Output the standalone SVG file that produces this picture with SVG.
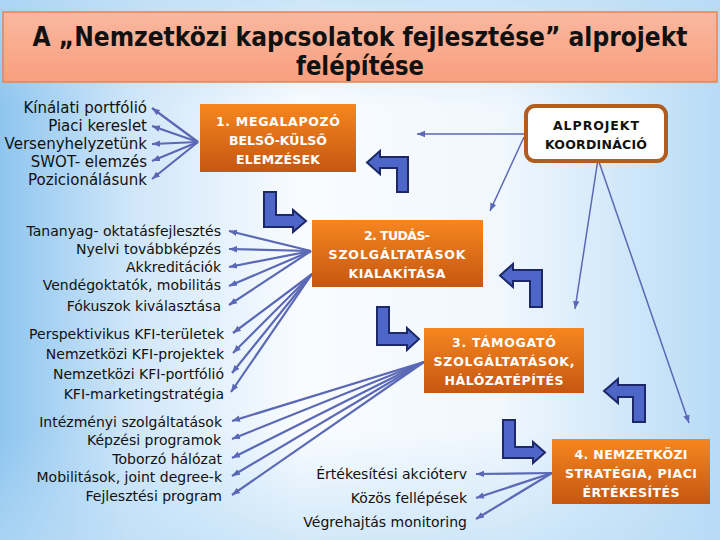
<svg xmlns="http://www.w3.org/2000/svg" width="720" height="540" viewBox="0 0 720 540">
<defs>
<linearGradient id="bgH" x1="0" y1="0" x2="1" y2="0">
<stop offset="0" stop-color="#8ec5ef"/>
<stop offset="0.18" stop-color="#cfe6f9"/>
<stop offset="0.42" stop-color="#f9fcff"/>
<stop offset="0.7" stop-color="#f0f7fd"/>
<stop offset="1" stop-color="#b7dbf6"/>
</linearGradient>
<linearGradient id="bgV" x1="0" y1="0" x2="0" y2="1">
<stop offset="0" stop-color="#b9dcf6" stop-opacity="0.7"/>
<stop offset="0.2" stop-color="#b9dcf6" stop-opacity="0"/>
<stop offset="0.8" stop-color="#b9dcf6" stop-opacity="0"/>
<stop offset="1" stop-color="#b9dcf6" stop-opacity="0.6"/>
</linearGradient>
<linearGradient id="titleG" x1="0" y1="0" x2="0" y2="1">
<stop offset="0" stop-color="#f9b8a0"/>
<stop offset="1" stop-color="#f89f7e"/>
</linearGradient>
<linearGradient id="boxG" x1="0" y1="0" x2="0" y2="1">
<stop offset="0" stop-color="#f7861f"/>
<stop offset="1" stop-color="#c55711"/>
</linearGradient>
<marker id="ah" markerUnits="userSpaceOnUse" markerWidth="9" markerHeight="8" refX="8" refY="4" orient="auto">
<path d="M0,0.8 L8,4 L0,7.2 z" fill="#5a68b5"/>
</marker>
<style>
.lst{font-family:"DejaVu Sans","Liberation Sans",sans-serif;font-size:14px;fill:#111;text-anchor:end}
.bx{fill:url(#boxG)}
.bt{font-family:"DejaVu Sans","Liberation Sans",sans-serif;font-size:12.5px;font-weight:bold;fill:#fff;text-anchor:middle}
.ln{stroke:#5a68b5;stroke-width:2.2;fill:none;marker-end:url(#ah)}
.lt{stroke:#5a68b5;stroke-width:1.5;fill:none;marker-end:url(#ah)}
.la{fill:#4f66c9;stroke:#1c2868;stroke-width:2;stroke-linejoin:miter}
</style>
</defs>
<rect width="720" height="540" fill="url(#bgH)"/>
<rect width="720" height="540" fill="url(#bgV)"/>

<g id="title">
<rect x="3" y="12" width="714" height="70" fill="url(#titleG)" stroke="#e58455" stroke-width="1.5"/>
<text x="360" y="46" text-anchor="middle" textLength="655" lengthAdjust="spacingAndGlyphs" style="font-family:'DejaVu Sans Condensed','DejaVu Sans',sans-serif;font-size:27px;font-weight:bold;fill:#111">A „Nemzetközi kapcsolatok fejlesztése” alprojekt</text>
<text x="360" y="75" text-anchor="middle" textLength="128" lengthAdjust="spacingAndGlyphs" style="font-family:'DejaVu Sans Condensed','DejaVu Sans',sans-serif;font-size:27px;font-weight:bold;fill:#111">felépítése</text>
</g>

<g id="connectors">
<line class="ln" x1="198" y1="142" x2="152" y2="108"/>
<line class="ln" x1="198" y1="142" x2="152" y2="126"/>
<line class="ln" x1="198" y1="142" x2="152" y2="144"/>
<line class="ln" x1="198" y1="142" x2="152" y2="161"/>
<line class="ln" x1="198" y1="142" x2="152" y2="179"/>

<line class="ln" x1="311" y1="251" x2="229" y2="231"/>
<line class="ln" x1="311" y1="251" x2="229" y2="249"/>
<line class="ln" x1="311" y1="251" x2="229" y2="267"/>
<line class="ln" x1="311" y1="251" x2="229" y2="286"/>
<line class="ln" x1="311" y1="251" x2="229" y2="305"/>

<line class="ln" x1="312" y1="274" x2="233" y2="333"/>
<line class="ln" x1="312" y1="274" x2="233" y2="353"/>
<line class="ln" x1="312" y1="274" x2="232" y2="373"/>
<line class="ln" x1="312" y1="274" x2="231" y2="392"/>

<line class="ln" x1="424" y1="362" x2="232" y2="421"/>
<line class="ln" x1="424" y1="362" x2="232" y2="439"/>
<line class="ln" x1="424" y1="362" x2="232" y2="458"/>
<line class="ln" x1="424" y1="362" x2="232" y2="476"/>
<line class="ln" x1="424" y1="362" x2="232" y2="495"/>

<line class="ln" x1="552" y1="473" x2="476" y2="474"/>
<line class="ln" x1="552" y1="473" x2="476" y2="498"/>
<line class="ln" x1="552" y1="473" x2="476" y2="519"/>

<line class="lt" x1="525" y1="134" x2="417" y2="134"/>
<line class="lt" x1="524" y1="137" x2="490" y2="211"/>
<line class="lt" x1="598" y1="159" x2="575" y2="309"/>
<line class="lt" x1="598" y1="159" x2="689" y2="423"/>

<polygon class="la" points="264,192 276,192 276,215 293,215 293,210 306,221 293,232 293,227 264,227"/>
<polygon class="la" points="377,307 389,307 389,333 407,333 407,328 419,339 407,350 407,345 377,345"/>
<polygon class="la" points="503,420 515,420 515,447 533,447 533,442 545,452.5 533,463 533,458 503,458"/>
<polygon class="la" points="408,157 408,192 397,192 397,168 380,168 380,174 367,162.5 380,151 380,157"/>
<polygon class="la" points="542,270 542,307 530,307 530,281 513,281 513,287 500,275.5 513,264 513,270"/>
<polygon class="la" points="645,385 645,422 633,422 633,397 618,397 618,403 604,391 618,379 618,385"/>
</g>

<g id="list1">
<text class="lst" x="147" y="113" style="font-size:15px">Kínálati portfólió</text>
<text class="lst" x="147" y="131" style="font-size:15px">Piaci kereslet</text>
<text class="lst" x="147" y="149" style="font-size:15px">Versenyhelyzetünk</text>
<text class="lst" x="147" y="167" style="font-size:15px">SWOT- elemzés</text>
<text class="lst" x="147" y="185" style="font-size:15px">Pozicionálásunk</text>
</g>

<g id="node1">
<rect class="bx" x="200" y="104" width="156" height="68"/>
<text class="bt" x="278" y="126" textLength="124" lengthAdjust="spacing">1. MEGALAPOZÓ</text>
<text class="bt" x="278" y="145" textLength="98" lengthAdjust="spacing">BELSŐ-KÜLSŐ</text>
<text class="bt" x="278" y="164" textLength="84" lengthAdjust="spacing">ELEMZÉSEK</text>
</g>

<g id="alprojekt">
<rect x="526" y="106" width="140" height="55" rx="9" ry="9" fill="#fff" stroke="#b15d1f" stroke-width="4"/>
<text x="596" y="130" text-anchor="middle" textLength="86" lengthAdjust="spacing" style="font-family:'DejaVu Sans','Liberation Sans',sans-serif;font-size:12.5px;font-weight:bold;fill:#111">ALPROJEKT</text>
<text x="596" y="149" text-anchor="middle" textLength="102" lengthAdjust="spacing" style="font-family:'DejaVu Sans','Liberation Sans',sans-serif;font-size:12.5px;font-weight:bold;fill:#111">KOORDINÁCIÓ</text>
</g>

<g id="list2">
<text class="lst" x="221" y="236">Tananyag- oktatásfejlesztés</text>
<text class="lst" x="221" y="254">Nyelvi továbbképzés</text>
<text class="lst" x="221" y="272">Akkreditációk</text>
<text class="lst" x="221" y="290">Vendégoktatók, mobilitás</text>
<text class="lst" x="221" y="311">Fókuszok kiválasztása</text>
</g>

<g id="node2">
<rect class="bx" x="312" y="220" width="171" height="67"/>
<text class="bt" x="397" y="240" textLength="66" lengthAdjust="spacing">2. TUDÁS-</text>
<text class="bt" x="397" y="259" textLength="137" lengthAdjust="spacing">SZOLGÁLTATÁSOK</text>
<text class="bt" x="397" y="278" textLength="97" lengthAdjust="spacing">KIALAKÍTÁSA</text>
</g>

<g id="list3">
<text class="lst" x="224" y="339">Perspektivikus KFI-területek</text>
<text class="lst" x="224" y="359">Nemzetközi KFI-projektek</text>
<text class="lst" x="224" y="379">Nemzetközi KFI-portfólió</text>
<text class="lst" x="224" y="399">KFI-marketingstratégia</text>
</g>

<g id="node3">
<rect class="bx" x="424" y="328" width="160" height="65"/>
<text class="bt" x="504" y="347" textLength="104" lengthAdjust="spacing">3. TÁMOGATÓ</text>
<text class="bt" x="504" y="366" textLength="141" lengthAdjust="spacing">SZOLGÁLTATÁSOK,</text>
<text class="bt" x="504" y="385" textLength="119" lengthAdjust="spacing">HÁLÓZATÉPÍTÉS</text>
</g>

<g id="list4">
<text class="lst" x="222" y="427">Intézményi szolgáltatások</text>
<text class="lst" x="221" y="445">Képzési programok</text>
<text class="lst" x="222" y="464">Toborzó hálózat</text>
<text class="lst" x="222" y="482">Mobilitások, joint degree-k</text>
<text class="lst" x="222" y="501">Fejlesztési program</text>
</g>

<g id="list5">
<text class="lst" x="467" y="479">Értékesítési akcióterv</text>
<text class="lst" x="467" y="503">Közös fellépések</text>
<text class="lst" x="467" y="527">Végrehajtás monitoring</text>
</g>

<g id="node4">
<rect class="bx" x="552" y="439" width="158" height="65"/>
<text class="bt" x="631" y="459" textLength="113" lengthAdjust="spacing">4. NEMZETKÖZI</text>
<text class="bt" x="631" y="478" textLength="132" lengthAdjust="spacing">STRATÉGIA, PIACI</text>
<text class="bt" x="631" y="497" textLength="97" lengthAdjust="spacing">ÉRTÉKESÍTÉS</text>
</g>
</svg>
